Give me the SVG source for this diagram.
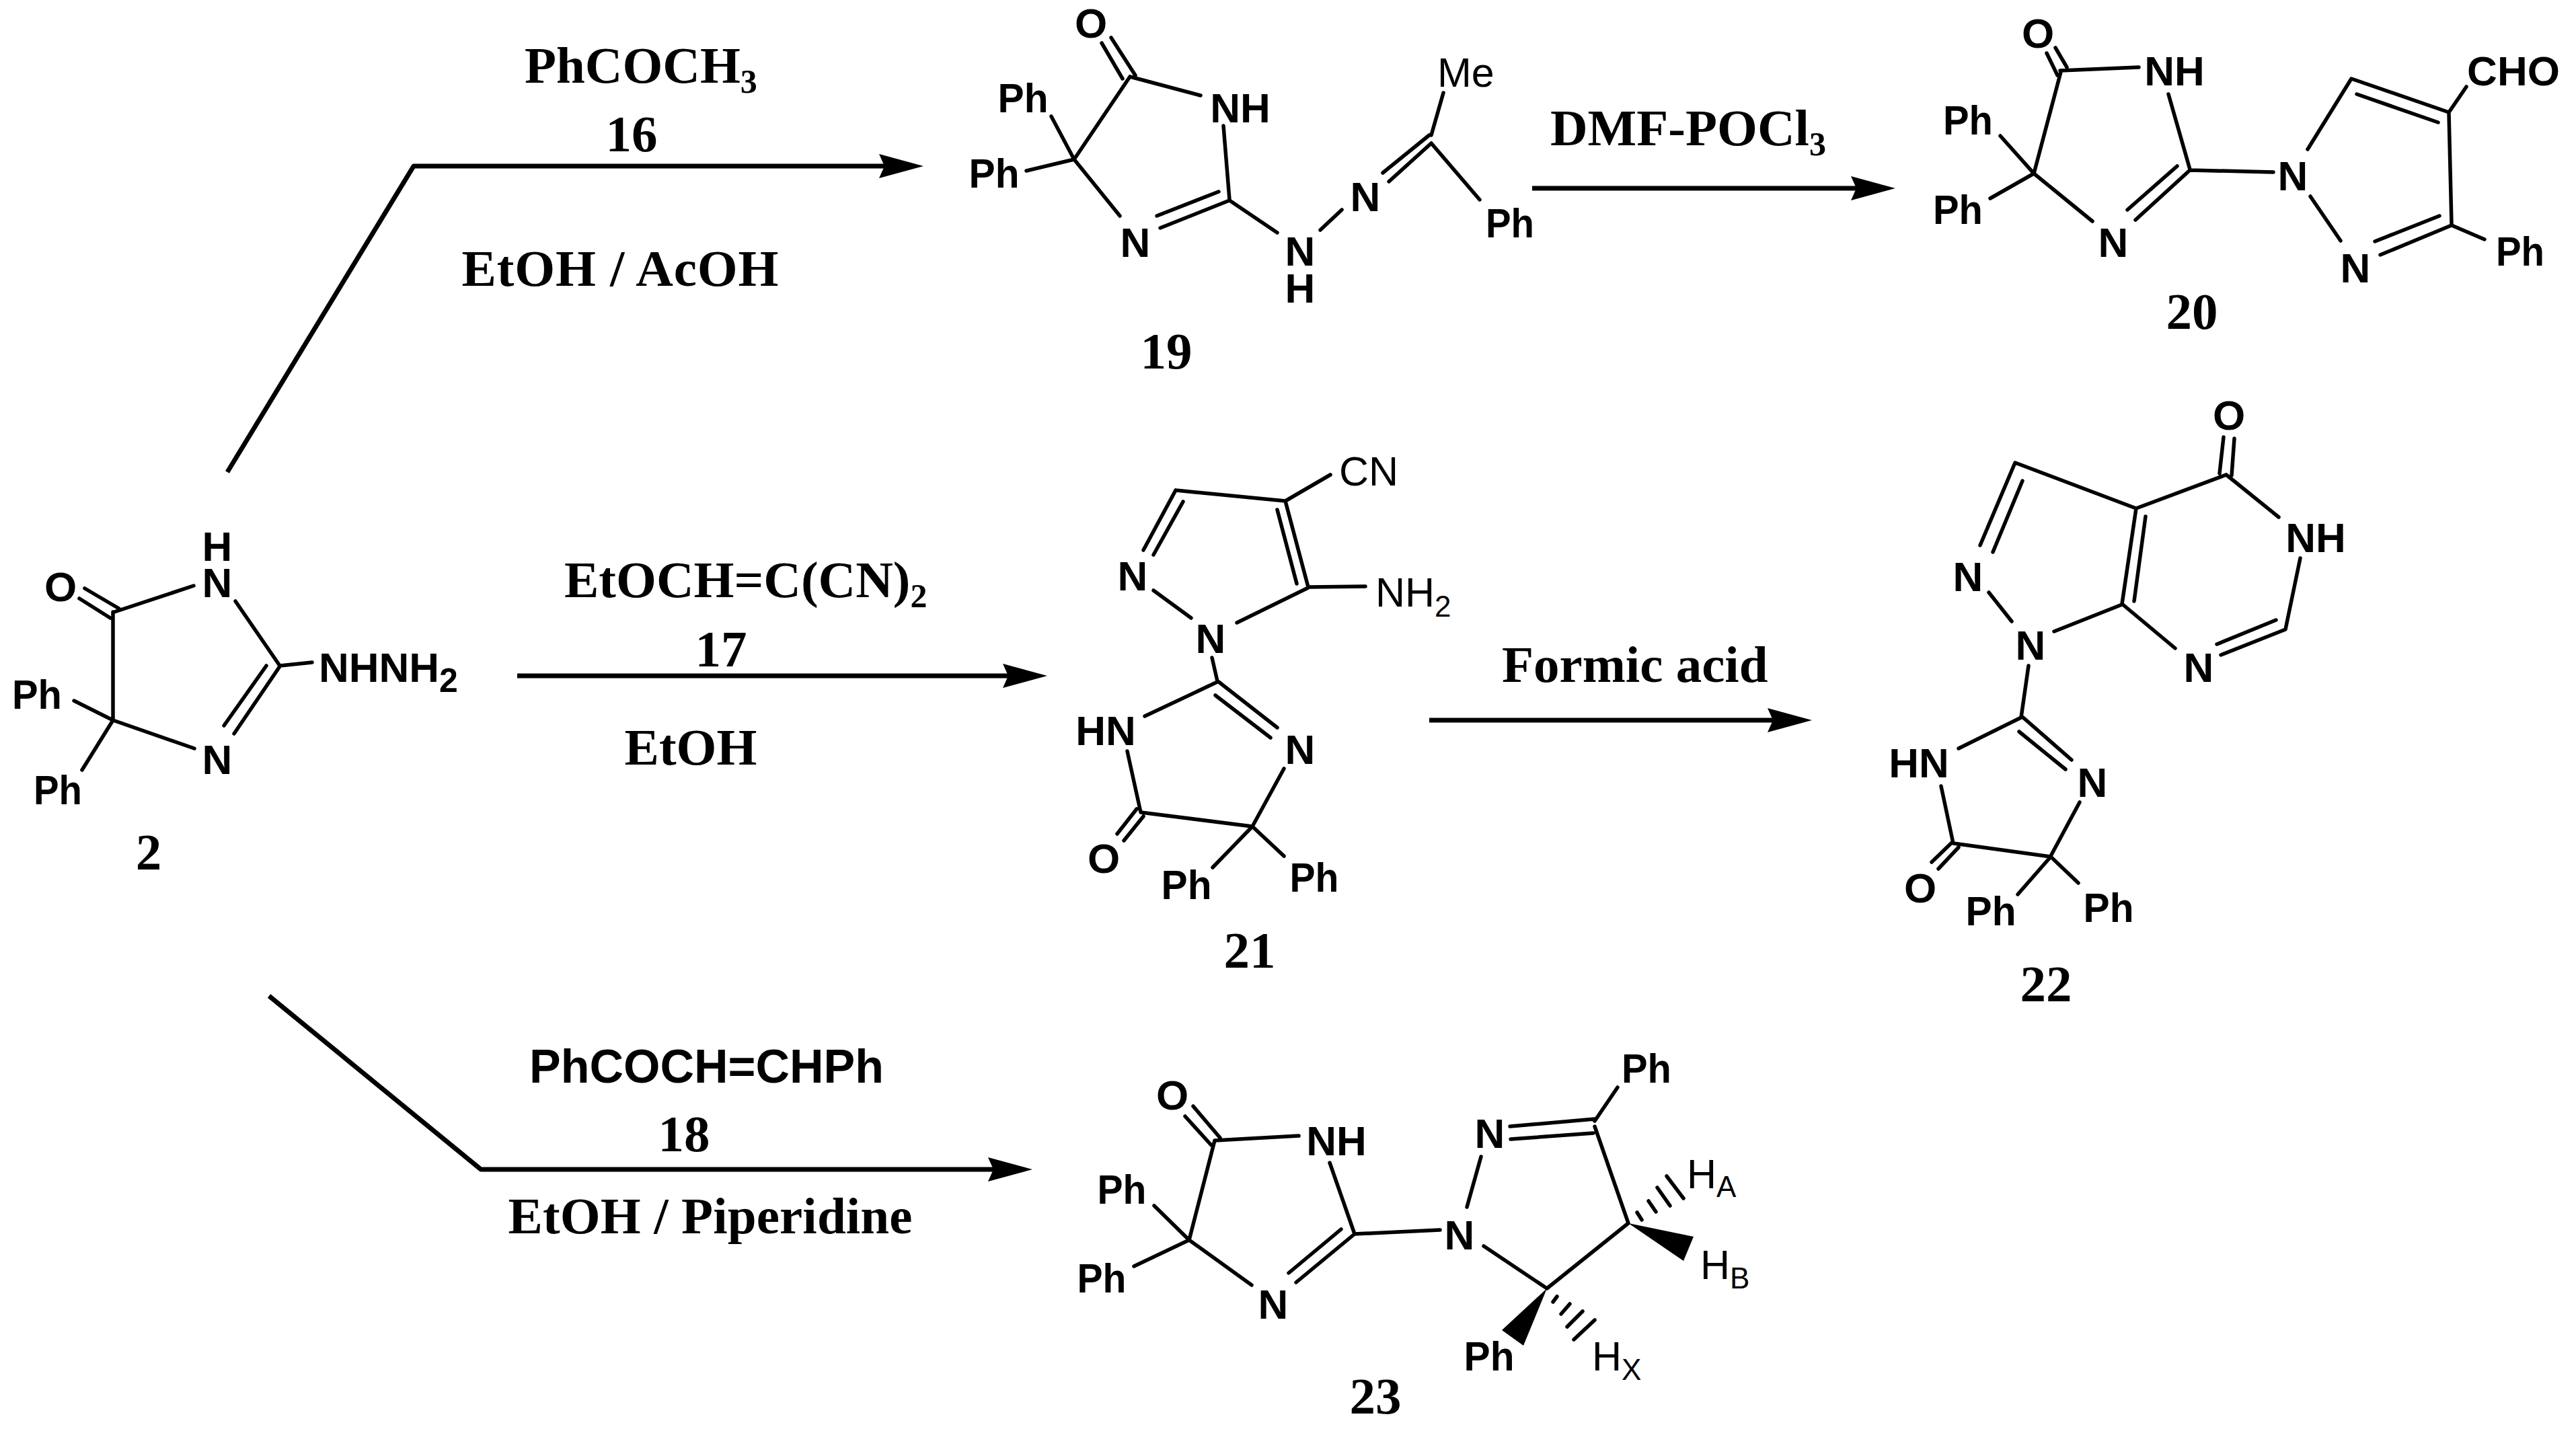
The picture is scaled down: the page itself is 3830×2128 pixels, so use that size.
<svg xmlns="http://www.w3.org/2000/svg" width="3830" height="2128" viewBox="0 0 3830 2128">
<style>
text{fill:#000}
.a{font:bold 62px "Liberation Sans",Arial,sans-serif;text-anchor:middle}
.r{font:normal 61px "Liberation Sans",Arial,sans-serif}
.s{font:bold 77px "Liberation Serif","Times New Roman",serif;text-anchor:middle}
.t{font:bold 77px "Liberation Serif","Times New Roman",serif}
.p{font:bold 70px "Liberation Sans",Arial,sans-serif}
.b{fill:none;stroke:#000;stroke-width:5.5;stroke-linecap:round;stroke-linejoin:round}
.c{fill:none;stroke:#000;stroke-width:7;stroke-linejoin:round}
.w{fill:#000}
.sub{font-size:50px}
.subr{font-size:44px}
</style>
<defs>
<marker id="h" markerUnits="userSpaceOnUse" markerWidth="70" markerHeight="40" refX="46" refY="20" orient="auto" overflow="visible"><path d="M0 2L66 20L0 38L8 20Z" fill="#000"/></marker>
</defs>
<rect width="3830" height="2128" fill="#fff"/>
<g id="connectors">
<path class="c" d="M338 702L615 247H1353" marker-end="url(#h)"/>
<path class="c" d="M2278 280H2798" marker-end="url(#h)"/>
<path class="c" d="M769 1005H1537" marker-end="url(#h)"/>
<path class="c" d="M2125 1071H2674" marker-end="url(#h)"/>
<path class="c" d="M400 1481L715 1739H1515" marker-end="url(#h)"/>
</g>
<g id="reagents">
<text class="t" x="780" y="123">PhCOCH<tspan class="sub" dy="15">3</tspan></text>
<text class="s" x="939" y="225">16</text>
<text class="s" x="922" y="425" textLength="471">EtOH / AcOH</text>
<text class="t" x="2305" y="216">DMF-POCl<tspan class="sub" dy="15">3</tspan></text>
<text class="t" x="839" y="888">EtOCH=C(CN)<tspan class="sub" dy="15">2</tspan></text>
<text class="s" x="1072" y="991">17</text>
<text class="s" x="1027" y="1137">EtOH</text>
<text class="t" x="2233" y="1014">Formic acid</text>
<text class="p" x="787" y="1610">PhCOCH=CHPh</text>
<text class="s" x="1017" y="1712">18</text>
<text class="s" x="1056" y="1834" textLength="601">EtOH / Piperidine</text>
</g>
<g id="compound-2">
<path class="b" d="M118 890L164 919M126 875L177 905M170 910L288 871M168 910V1071M350 894L416 990L464 985M416 991L348 1091M396 990L333 1079M168 1071L289 1113M110 1042L168 1071L122 1145"/>
<text class="a" x="323" y="834">H<tspan x="323" y="888">N</tspan></text>
<text class="a" x="90" y="894">O</text>
<text class="a" x="323" y="1151">N</text>
<text class="a" x="55" y="1054" textLength="74" lengthAdjust="spacingAndGlyphs">Ph</text>
<text class="a" x="86" y="1196" textLength="72" lengthAdjust="spacingAndGlyphs">Ph</text>
<text class="a" style="text-anchor:start" x="474" y="1014">NHNH<tspan class="sub" dy="15">2</tspan></text>
<text class="s" x="221" y="1293">2</text>
</g>
<g id="compound-19">
<path class="b" d="M1638 64L1669 117M1652 56L1688 112M1680 114L1785 142M1680 114L1597 237M1819 187L1828 297M1597 237L1665 321M1828 298L1725 339M1812 285L1720 321M1828 298L1899 346M1963 342L1995 312M2065 270L2128 213M2056 257L2125 201M2146 138L2128 201M2128 213L2200 297M1563 173L1597 237L1526 254"/>
<text class="a" x="1622" y="56">O</text>
<text class="a" x="1521" y="167" textLength="75" lengthAdjust="spacingAndGlyphs">Ph</text>
<text class="a" x="1478" y="279" textLength="75" lengthAdjust="spacingAndGlyphs">Ph</text>
<text class="a" x="1844" y="182">NH</text>
<text class="a" x="1688" y="382">N</text>
<text class="a" x="1933" y="395">N<tspan x="1933" y="450">H</tspan></text>
<text class="a" x="2030" y="314">N</text>
<text class="a" x="2245" y="353" textLength="72" lengthAdjust="spacingAndGlyphs">Ph</text>
<text class="r" x="2137" y="129">Me</text>
<text class="s" x="1734" y="548">19</text>
</g>
<g id="compound-20">
<path class="b" d="M3043 79L3059 112M3056 71L3073 100M3063 105L3180 100M3064 107L3024 258M3224 140L3256 252M2974 202L3024 258L2959 295M3024 258L3111 329M3175 327L3256 253M3163 312L3237 247M3256 253L3380 256M3431 222L3496 117L3641 167M3504 140L3625 182M3641 167L3667 129M3641 169L3645 334M3645 335L3539 379M3627 321L3531 359M3645 335L3694 356M3435 292L3480 358"/>
<text class="a" x="3030" y="71">O</text>
<text class="a" x="3233" y="127">NH</text>
<text class="a" x="2926" y="200" textLength="74" lengthAdjust="spacingAndGlyphs">Ph</text>
<text class="a" x="2911" y="333" textLength="74" lengthAdjust="spacingAndGlyphs">Ph</text>
<text class="a" x="3142" y="382">N</text>
<text class="a" x="3409" y="283">N</text>
<text class="a" x="3737" y="127">CHO</text>
<text class="a" x="3747" y="395" textLength="72" lengthAdjust="spacingAndGlyphs">Ph</text>
<text class="a" x="3502" y="420">N</text>
<text class="s" x="3259" y="489">20</text>
</g>
<g id="compound-21">
<path class="b" d="M1911 745L1978 706M1748 729L1911 745M1748 729L1700 818M1759 746L1715 825M1911 745L1945 873M1899 758L1928 868M1945 873L2030 872M1945 874L1839 926M1715 878L1771 919M1802 978L1810 1013M1810 1014L1702 1065M1812 1014L1899 1082M1807 1034L1889 1097M1909 1143L1862 1229M1676 1117L1696 1208L1862 1229M1700 1214L1671 1250M1690 1203L1661 1240M1862 1229L1803 1290M1862 1229L1909 1273"/>
<text class="r" x="1991" y="722">CN</text>
<text class="r" x="2045" y="902">NH<tspan class="subr" dy="15">2</tspan></text>
<text class="a" x="1800" y="971">N</text>
<text class="a" x="1684" y="878">N</text>
<text class="a" x="1644" y="1108">HN</text>
<text class="a" x="1933" y="1136">N</text>
<text class="a" x="1641" y="1298">O</text>
<text class="a" x="1764" y="1337" textLength="75" lengthAdjust="spacingAndGlyphs">Ph</text>
<text class="a" x="1954" y="1326" textLength="73" lengthAdjust="spacingAndGlyphs">Ph</text>
<text class="s" x="1858" y="1439">21</text>
</g>
<g id="compound-22">
<path class="b" d="M3300 704L3306 650M3318 707L3322 652M3310 706L3388 769M3420 830L3398 936L3302 974M3384 922L3296 958M3234 964L3155 898L3176 756M3173 894L3190 768M3176 756L3310 706M3176 756L2996 688L2944 811M3007 715L2963 821M2957 881L2991 924M3155 899L3054 939M3016 990L3005 1067L2912 1113M3008 1067L3080 1130M3002 1088L3071 1144M3092 1193L3049 1273M2886 1169L2904 1254L3049 1274M2912 1260L2882 1292M2902 1253L2872 1282M3049 1274L3000 1330M3049 1274L3090 1313"/>
<text class="a" x="3314" y="639">O</text>
<text class="a" x="3443" y="821">NH</text>
<text class="a" x="3269" y="1014">N</text>
<text class="a" x="2926" y="879">N</text>
<text class="a" x="3019" y="981">N</text>
<text class="a" x="2853" y="1156">HN</text>
<text class="a" x="3111" y="1185">N</text>
<text class="a" x="2855" y="1342">O</text>
<text class="a" x="2960" y="1376" textLength="75" lengthAdjust="spacingAndGlyphs">Ph</text>
<text class="a" x="3135" y="1371" textLength="75" lengthAdjust="spacingAndGlyphs">Ph</text>
<text class="s" x="3042" y="1489">22</text>
</g>
<g id="compound-23">
<path class="b" d="M1801 1703L1762 1660M1814 1692L1774 1645M1806 1696L1931 1689M1806 1696L1768 1844M1977 1729L2014 1835L1927 1907M1994 1828L1916 1893M1768 1844L1861 1911M1716 1793L1768 1844L1686 1883M2014 1835L2141 1829M2181 1795L2202 1720M2245 1675L2371 1664M2246 1694L2369 1685M2371 1667L2405 1617M2371 1675L2421 1819L2300 1916L2206 1853M2434 1803L2441 1814M2451 1786L2462 1802M2464 1766L2483 1793M2478 1749L2503 1782M2309 1936L2315 1928M2321 1954L2334 1939M2330 1973L2353 1950M2340 1992L2371 1963"/>
<path class="w" d="M2421 1819L2518 1839L2503 1875Z"/>
<path class="w" d="M2300 1916L2233 1978L2265 2001Z"/>
<text class="a" x="1743" y="1650">O</text>
<text class="a" x="1987" y="1718">NH</text>
<text class="a" x="1893" y="1961">N</text>
<text class="a" x="1668" y="1790" textLength="73" lengthAdjust="spacingAndGlyphs">Ph</text>
<text class="a" x="1638" y="1922" textLength="73" lengthAdjust="spacingAndGlyphs">Ph</text>
<text class="a" x="2170" y="1858">N</text>
<text class="a" x="2215" y="1707">N</text>
<text class="a" x="2448" y="1610" textLength="74" lengthAdjust="spacingAndGlyphs">Ph</text>
<text class="a" x="2214" y="2038" textLength="75" lengthAdjust="spacingAndGlyphs">Ph</text>
<text class="r" x="2508" y="1767">H<tspan class="subr" dy="13">A</tspan></text>
<text class="r" x="2528" y="1902">H<tspan class="subr" dy="14">B</tspan></text>
<text class="r" x="2367" y="2038">H<tspan class="subr" dy="14">X</tspan></text>
<text class="s" x="2045" y="2102">23</text>
</g>
</svg>
